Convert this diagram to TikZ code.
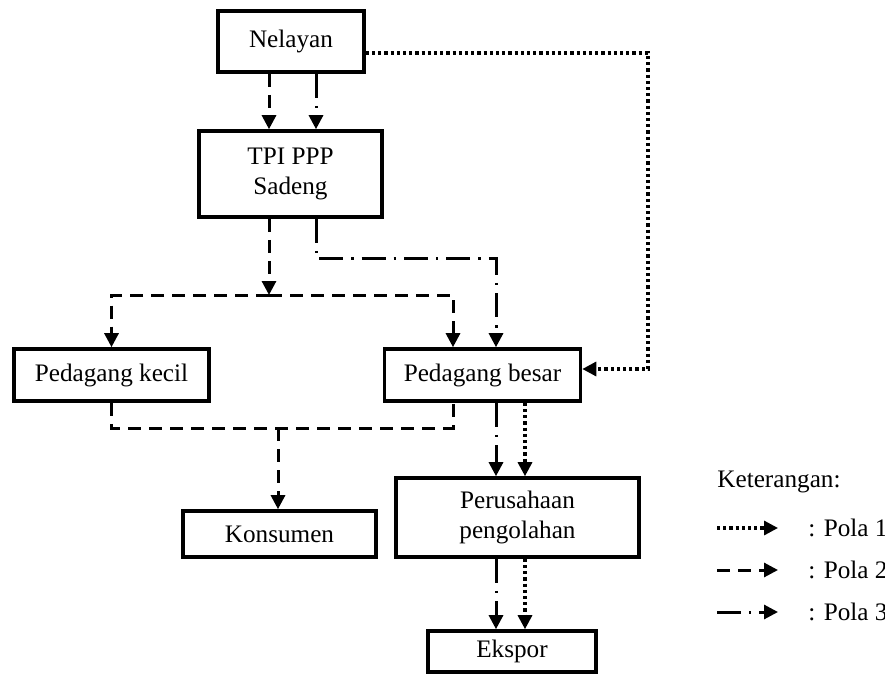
\documentclass[tikz,border=0pt]{standalone}
\usepackage{fontspec}
\setmainfont{Liberation Serif}
\usetikzlibrary{arrows.meta}
\tikzset{
  box/.style={draw,line width=1.8pt,align=center,inner sep=0pt},
  pola1/.style={line width=1.6pt,dash pattern=on 1.6pt off 1.5pt},
  pola2/.style={line width=1.5pt,dash pattern=on 6.5pt off 4pt},
  pola3/.style={line width=1.5pt,dash pattern=on 12pt off 4pt on 1.2pt off 4pt},
  ket/.style={anchor=west,inner sep=0pt}
}
\begin{document}
\begin{tikzpicture}[x=0.5pt,y=-0.5pt,>={Triangle[width=7pt,length=7pt]},
    font=\fontsize{12.6}{15}\selectfont]
  \useasboundingbox (0,0) rectangle (885,675);
  % kotak
  \node[box,minimum width=73pt,minimum height=30.5pt] (nelayan) at (291,41.5) {Nelayan};
  \node[box,minimum width=91.5pt,minimum height=43pt] (tpi) at (290.5,174) {TPI PPP\\Sadeng};
  \node[box,minimum width=97.5pt,minimum height=26pt] (kecil) at (111.5,375) {Pedagang kecil};
  \node[box,minimum width=98pt,minimum height=26pt] (besar) at (482.5,375) {Pedagang besar};
  \node[box,minimum width=96.5pt,minimum height=23pt] (konsumen) at (279.5,534) {Konsumen};
  \node[box,minimum width=121.5pt,minimum height=39.5pt] (olah) at (517.5,517.5) {Perusahaan\\pengolahan};
  \node[box,minimum width=84pt,minimum height=20.5pt] (ekspor) at (512,651.5) {Ekspor};
  % titik bantu
  \coordinate (j1) at (269,295);
  \coordinate (j2) at (278,428);
  \coordinate (j3) at (453,428);
  \coordinate (t3) at (316,258);
  \coordinate (c3) at (496,0);
  \coordinate (c1) at (525,0);
  \coordinate (t0) at (648,53);
  \coordinate (t1) at (648,369);
  % pola 2
  \draw[pola2,->] (nelayan.south -| j1) -- (tpi.north -| j1);
  \draw[pola2,->] (tpi.south -| j1) -- (j1);
  \draw[pola2,->] (j1) -| (kecil.north);
  \draw[pola2,->] (j1) -| (besar.north -| j3);
  \draw[pola2] (kecil.south) |- (j2) -| (besar.south -| j3);
  \draw[pola2,->] (j2) -- (konsumen.north -| j2);
  % pola 3
  \draw[pola3,->] (nelayan.south -| t3) -- (tpi.north -| t3);
  \draw[pola3,->] (tpi.south -| t3) -- (t3) -| (besar.north -| c3);
  \draw[pola3,->] (besar.south -| c3) -- (olah.north -| c3);
  \draw[pola3,->] (olah.south -| c3) -- (ekspor.north -| c3);
  % pola 1
  \draw[pola1,->] (nelayan.east |- t0) -- (t0) -- (t1) -- (t1 -| besar.east);
  \draw[pola1,->] (besar.south -| c1) -- (olah.north -| c1);
  \draw[pola1,->] (olah.south -| c1) -- (ekspor.north -| c1);
  % keterangan
  \node[ket] (ket) at (717,482) {Keterangan:};
  \coordinate (a1) at (717,528); \coordinate (b1) at (778,528);
  \coordinate (a2) at (717,570); \coordinate (b2) at (778,570);
  \coordinate (a3) at (717,612); \coordinate (b3) at (778,612);
  \draw[pola1,->] (a1) -- (b1);
  \draw[pola2,->] (a2) -- (b2);
  \draw[pola3,->] (a3) -- (b3);
  \node[ket] (k1) at (808,528) {: Pola 1};
  \node[ket] (k2) at (808,570) {: Pola 2};
  \node[ket] (k3) at (808,612) {: Pola 3};
\end{tikzpicture}
\end{document}
